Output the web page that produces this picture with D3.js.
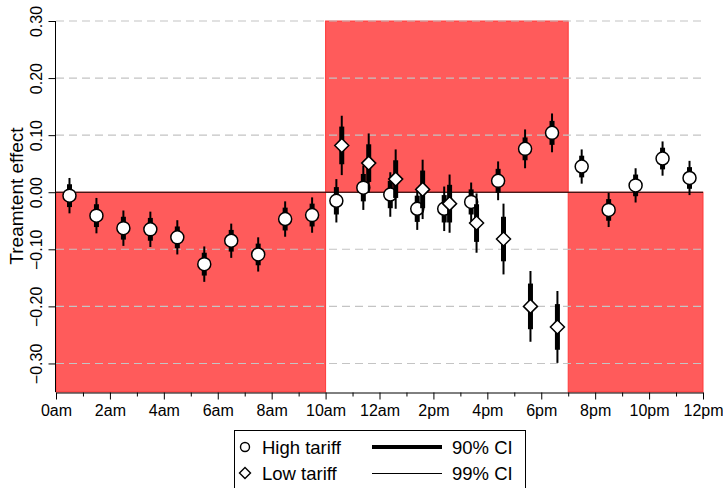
<!DOCTYPE html>
<html lang="en">
<head>
<meta charset="UTF-8">
<title>Treatment effect by hour</title>
<script src="https://cdn.jsdelivr.net/npm/d3@7"></script>
<style>
  body { margin: 0; background: #fff; }
  text { font-family: "Liberation Sans", Arial, sans-serif; fill: #000; }
</style>
</head>
<body>
<div id="container"></div>
<script>
// High tariff: one estimate per hour (plotted at the half hour)
var highHours = [0.5, 1.5, 2.5, 3.5, 4.5, 5.5, 6.5, 7.5, 8.5, 9.5, 10.5, 11.5,
                 12.5, 13.5, 14.5, 15.5, 16.5, 17.5, 18.5, 19.5, 20.5, 21.5, 22.5, 23.5];
var highEst = [-0.006, -0.041, -0.063, -0.065, -0.079, -0.126, -0.085, -0.109, -0.047, -0.040, -0.015, 0.008,
               -0.004, -0.029, -0.029, -0.017, 0.020, 0.076, 0.104, 0.045, -0.031, 0.012, 0.059, 0.025];
// half widths of the confidence intervals
var high90 = [0.020, 0.020, 0.020, 0.020, 0.019, 0.020, 0.019, 0.019, 0.020, 0.020, 0.024, 0.024,
              0.024, 0.023, 0.024, 0.022, 0.021, 0.020, 0.021, 0.019, 0.019, 0.019, 0.019, 0.019];
var high99 = [0.031, 0.031, 0.031, 0.031, 0.030, 0.031, 0.030, 0.030, 0.031, 0.031, 0.038, 0.039,
              0.039, 0.037, 0.039, 0.034, 0.034, 0.034, 0.034, 0.030, 0.030, 0.030, 0.030, 0.030];

// Low tariff: peak hours only
var lowHours = [10.5, 11.5, 12.5, 13.5, 14.5, 15.5, 16.5, 17.5, 18.5];
var lowEst = [0.082, 0.051, 0.023, 0.005, -0.020, -0.054, -0.082, -0.200, -0.236];
var low90 = [0.033, 0.033, 0.033, 0.033, 0.033, 0.033, 0.039, 0.040, 0.040];
var low99 = [0.052, 0.052, 0.052, 0.052, 0.051, 0.052, 0.062, 0.062, 0.063];

// shaded blocks (hours, effect range)
var shadeStart = [0, 10, 19];
var shadeEnd = [10, 19, 24];
var shadeHigh = [0, 0.30, 0];
var shadeLow = [-0.35, 0, -0.35];

var xMajor = [0, 2, 4, 6, 8, 10, 12, 14, 16, 18, 20, 22, 24];
var xLabels = ["0am", "2am", "4am", "6am", "8am", "10am", "12am", "2pm", "4pm", "6pm", "8pm", "10pm", "12pm"];
var xMinor = [1, 3, 5, 7, 9, 11, 13, 15, 17, 19, 21, 23];
var yTicks = [0.30, 0.20, 0.10, 0.00, -0.10, -0.20, -0.30];

var W = 723, H = 488;
var plotLeft = 56, plotRight = 703, plotTop = 21, plotBottom = 392;

var svg = d3.select("#container").append("svg")
    .attr("width", W)
    .attr("height", H);

var x = d3.scaleLinear().domain([0, 24]).range([plotLeft, plotRight]);
var y = d3.scaleLinear().domain([-0.35, 0.30]).range([plotBottom, plotTop]);

// red blocks
svg.selectAll("rect.shade")
    .data(shadeStart)
    .enter().append("rect")
    .attr("class", "shade")
    .attr("x", (d, i) => x(d))
    .attr("y", (d, i) => y(shadeHigh[i]))
    .attr("width", (d, i) => x(shadeEnd[i]) - x(d))
    .attr("height", (d, i) => y(shadeLow[i]) - y(shadeHigh[i]))
    .attr("fill", "#ff5b5b")
    .attr("stroke", "#ff3a3a")
    .attr("stroke-width", 1);

// dashed grid
svg.selectAll("line.grid")
    .data(yTicks.filter(d => d !== 0))
    .enter().append("line")
    .attr("class", "grid")
    .attr("x1", plotLeft).attr("x2", plotRight)
    .attr("y1", d => y(d)).attr("y2", d => y(d))
    .attr("stroke", "#c4c4c4")
    .attr("stroke-width", 1.1)
    .attr("stroke-dasharray", "8,5");

// zero line
svg.append("line")
    .attr("x1", plotLeft).attr("x2", plotRight)
    .attr("y1", y(0)).attr("y2", y(0))
    .attr("stroke", "#000")
    .attr("stroke-width", 1);

// y axis
var yAxis = svg.append("g")
    .attr("transform", "translate(" + (plotLeft - 0.5) + ",0)")
    .call(d3.axisLeft(y).tickValues(yTicks).tickSize(7).tickSizeOuter(0).tickFormat(d3.format(".2f")));
yAxis.select(".domain").attr("d", "M0," + plotTop + "V" + plotBottom);
yAxis.selectAll("text")
    .attr("x", 0).attr("y", -14).attr("dy", 0)
    .attr("transform", "rotate(-90)")
    .attr("text-anchor", "middle")
    .style("font-size", "16px")
    .style("font-family", "'Liberation Sans', Arial, sans-serif");

svg.append("text")
    .attr("transform", "translate(23,196) rotate(-90)")
    .attr("text-anchor", "middle")
    .style("font-size", "19px")
    .text("Treamtent effect");

// x axis
var xAxis = svg.append("g")
    .attr("transform", "translate(0," + (plotBottom + 0.5) + ")")
    .call(d3.axisBottom(x).tickValues(xMajor).tickSize(7).tickSizeOuter(0).tickPadding(5)
        .tickFormat((d, i) => xLabels[i]));
xAxis.selectAll("text")
    .style("font-size", "16px")
    .style("font-family", "'Liberation Sans', Arial, sans-serif");
svg.append("g")
    .attr("transform", "translate(0," + (plotBottom + 0.5) + ")")
    .call(d3.axisBottom(x).tickValues(xMinor).tickSize(4).tickFormat(""))
    .select(".domain").remove();

// confidence intervals and point estimates
function diamond(s) {
    return "M0," + (-s) + "L" + s + ",0L0," + s + "L" + (-s) + ",0Z";
}

var peakShift = 0.1;
function highX(h) {
    return x(lowHours.indexOf(h) >= 0 ? h - peakShift : h);
}

var high = svg.append("g");
high.selectAll("line.ci99")
    .data(highHours)
    .enter().append("line")
    .attr("class", "ci99")
    .attr("x1", d => highX(d)).attr("x2", d => highX(d))
    .attr("y1", (d, i) => y(highEst[i] + high99[i]))
    .attr("y2", (d, i) => y(highEst[i] - high99[i]))
    .attr("stroke", "#000").attr("stroke-width", 2);
high.selectAll("line.ci90")
    .data(highHours)
    .enter().append("line")
    .attr("class", "ci90")
    .attr("x1", d => highX(d)).attr("x2", d => highX(d))
    .attr("y1", (d, i) => y(highEst[i] + high90[i]))
    .attr("y2", (d, i) => y(highEst[i] - high90[i]))
    .attr("stroke", "#000").attr("stroke-width", 5);
high.selectAll("circle")
    .data(highHours)
    .enter().append("circle")
    .attr("cx", d => highX(d))
    .attr("cy", (d, i) => y(highEst[i]))
    .attr("r", 6.5)
    .attr("fill", "#fff")
    .attr("stroke", "#000")
    .attr("stroke-width", 1.5);

var low = svg.append("g");
low.selectAll("line.ci99")
    .data(lowHours)
    .enter().append("line")
    .attr("class", "ci99")
    .attr("x1", d => x(d + peakShift)).attr("x2", d => x(d + peakShift))
    .attr("y1", (d, i) => y(lowEst[i] + low99[i]))
    .attr("y2", (d, i) => y(lowEst[i] - low99[i]))
    .attr("stroke", "#000").attr("stroke-width", 2);
low.selectAll("line.ci90")
    .data(lowHours)
    .enter().append("line")
    .attr("class", "ci90")
    .attr("x1", d => x(d + peakShift)).attr("x2", d => x(d + peakShift))
    .attr("y1", (d, i) => y(lowEst[i] + low90[i]))
    .attr("y2", (d, i) => y(lowEst[i] - low90[i]))
    .attr("stroke", "#000").attr("stroke-width", 5);
low.selectAll("path")
    .data(lowHours)
    .enter().append("path")
    .attr("transform", (d, i) => "translate(" + x(d + peakShift) + "," + y(lowEst[i]) + ")")
    .attr("d", diamond(7))
    .attr("fill", "#fff")
    .attr("stroke", "#000")
    .attr("stroke-width", 1.5);

// legend
var legend = svg.append("g");
legend.append("rect")
    .attr("x", 234.5).attr("y", 430.5)
    .attr("width", 291).attr("height", 80)
    .attr("fill", "#fff")
    .attr("stroke", "#000")
    .attr("stroke-width", 1);
legend.append("circle")
    .attr("cx", 245).attr("cy", 447).attr("r", 4.5)
    .attr("fill", "#fff").attr("stroke", "#000").attr("stroke-width", 1.4);
legend.append("path")
    .attr("transform", "translate(245,473)")
    .attr("d", diamond(5.5))
    .attr("fill", "#fff").attr("stroke", "#000").attr("stroke-width", 1.4);
legend.append("text").attr("x", 262).attr("y", 453.5).style("font-size", "18.5px").text("High tariff");
legend.append("text").attr("x", 262).attr("y", 479.5).style("font-size", "18.5px").text("Low tariff");
legend.append("line")
    .attr("x1", 372).attr("x2", 442).attr("y1", 447).attr("y2", 447)
    .attr("stroke", "#000").attr("stroke-width", 4);
legend.append("line")
    .attr("x1", 372).attr("x2", 442).attr("y1", 473.5).attr("y2", 473.5)
    .attr("stroke", "#000").attr("stroke-width", 1);
legend.append("text").attr("x", 452).attr("y", 453.5).style("font-size", "18.5px").text("90% CI");
legend.append("text").attr("x", 452).attr("y", 479.5).style("font-size", "18.5px").text("99% CI");
</script>
</body>
</html>
